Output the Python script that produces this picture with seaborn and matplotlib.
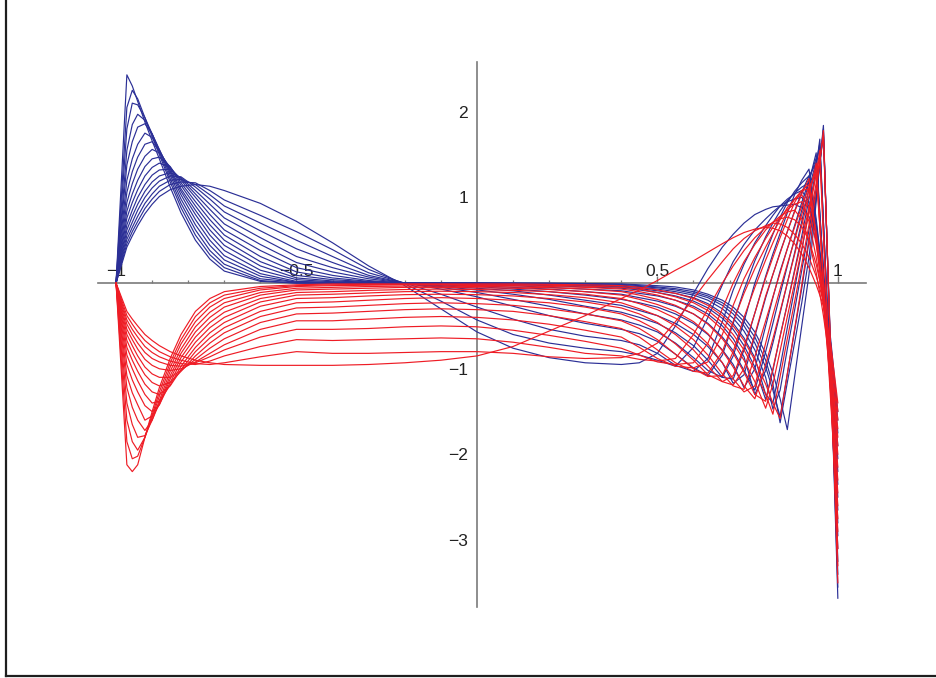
import matplotlib
matplotlib.use("Agg")
import matplotlib.pyplot as plt
import pandas as pd
import seaborn as sns

# shared x sample positions
x_grid = [-1.0, -0.97, -0.955, -0.94, -0.92, -0.9, -0.88, -0.85, -0.82, -0.78, -0.74, -0.7, -0.6, -0.5,
          -0.4, -0.3, -0.2, -0.1, 0.0, 0.1, 0.2, 0.3,
          0.4, 0.45, 0.5, 0.55, 0.6, 0.64, 0.68, 0.71, 0.74, 0.77, 0.8, 0.82, 0.84, 0.86, 0.88, 0.9,
          0.92, 0.94, 0.95, 0.96, 0.98, 1.0]

# blue family (sharpest first)
b00 = [0, 2.43, 2.3, 2.12, 1.88, 1.66, 1.45, 1.12, 0.82, 0.5, 0.28, 0.14, 0.02, 0.0,
       0.0, 0.0, 0.0, 0.0, 0.0, 0.0, 0.0, -0.005,
       -0.01, -0.02, -0.03, -0.045, -0.08, -0.13, -0.2, -0.28, -0.4, -0.57, -0.82, -1.05, -1.35, -1.71, -1.1, -0.5, 0.1, 0.95, 1.4, 1.84, -0.92, -3.68]
b01 = [0, 2.05, 2.25, 2.15, 1.93, 1.71, 1.5, 1.18, 0.88, 0.56, 0.33, 0.18, 0.03, 0.0,
       0.0, 0.0, 0.0, 0.0, 0.0, 0.0, -0.005, -0.01,
       -0.015, -0.03, -0.045, -0.065, -0.1, -0.15, -0.23, -0.32, -0.45, -0.63, -0.9, -1.18, -1.63, -1.16, -0.7, -0.23, 0.3, 1.0, 1.4, 1.8, -0.88, -3.55]
b02 = [0, 1.8, 2.1, 2.08, 1.93, 1.74, 1.53, 1.22, 0.93, 0.62, 0.38, 0.22, 0.05, 0.01,
       0.0, 0.0, 0.0, 0.0, 0.0, -0.005, -0.01, -0.015,
       -0.025, -0.04, -0.055, -0.08, -0.12, -0.17, -0.26, -0.36, -0.5, -0.7, -0.98, -1.25, -1.56, -1.06, -0.56, -0.06, 0.48, 1.05, 1.4, 1.76, -0.82, -3.4]
b03 = [0, 1.55, 1.85, 1.97, 1.9, 1.74, 1.55, 1.26, 0.98, 0.68, 0.44, 0.27, 0.08, 0.01,
       0.005, 0.0, 0.0, 0.0, 0.0, -0.005, -0.015, -0.025,
       -0.035, -0.05, -0.07, -0.1, -0.14, -0.2, -0.3, -0.41, -0.56, -0.78, -1.1, -1.47, -1.25, -0.77, -0.32, 0.15, 0.62, 1.1, 1.4, 1.72, -0.77, -3.25]
b04 = [0, 1.38, 1.65, 1.82, 1.86, 1.74, 1.56, 1.29, 1.03, 0.74, 0.5, 0.32, 0.11, 0.02,
       0.01, 0.0, 0.0, 0.0, -0.005, -0.01, -0.02, -0.03,
       -0.045, -0.065, -0.09, -0.12, -0.17, -0.24, -0.35, -0.47, -0.64, -0.87, -1.3, -1.4, -0.98, -0.52, -0.07, 0.38, 0.85, 1.35, 1.68, 0.72, -1.19, -3.1]
b05 = [0, 1.2, 1.45, 1.62, 1.75, 1.7, 1.55, 1.31, 1.07, 0.8, 0.56, 0.38, 0.15, 0.04,
       0.015, 0.005, 0.0, -0.005, -0.01, -0.02, -0.03, -0.045,
       -0.06, -0.08, -0.11, -0.15, -0.21, -0.29, -0.41, -0.54, -0.73, -0.98, -1.36, -1.02, -0.62, -0.24, 0.15, 0.55, 0.98, 1.4, 1.63, 0.71, -1.12, -2.95]
b06 = [0, 1.06, 1.3, 1.47, 1.62, 1.65, 1.54, 1.33, 1.1, 0.85, 0.62, 0.44, 0.2, 0.06,
       0.025, 0.01, 0.0, -0.01, -0.02, -0.03, -0.05, -0.07,
       -0.09, -0.12, -0.15, -0.2, -0.27, -0.36, -0.5, -0.65, -0.86, -1.3, -1.02, -0.7, -0.35, 0.0, 0.35, 0.72, 1.1, 1.42, 1.58, 0.7, -1.05, -2.8]
b07 = [0, 0.94, 1.16, 1.33, 1.48, 1.56, 1.52, 1.35, 1.14, 0.9, 0.68, 0.5, 0.25, 0.09,
       0.04, 0.015, 0.0, -0.015, -0.03, -0.05, -0.07, -0.1,
       -0.13, -0.17, -0.21, -0.27, -0.36, -0.47, -0.63, -0.79, -1.02, -1.25, -0.8, -0.47, -0.13, 0.2, 0.52, 0.85, 1.18, 1.52, 0.83, 0.13, -1.26, -2.65]
b08 = [0, 0.84, 1.04, 1.2, 1.36, 1.45, 1.47, 1.36, 1.17, 0.95, 0.74, 0.56, 0.31, 0.13,
       0.06, 0.02, 0.0, -0.02, -0.04, -0.07, -0.1, -0.14,
       -0.19, -0.23, -0.28, -0.36, -0.47, -0.6, -0.78, -0.95, -1.22, -1.0, -0.5, -0.17, 0.14, 0.4, 0.67, 0.94, 1.2, 1.46, 0.81, 0.15, -1.17, -2.5]
b09 = [0, 0.76, 0.94, 1.09, 1.25, 1.35, 1.4, 1.35, 1.2, 1.0, 0.8, 0.62, 0.38, 0.18,
       0.09, 0.03, 0.0, -0.03, -0.06, -0.09, -0.14, -0.2,
       -0.26, -0.32, -0.38, -0.47, -0.6, -0.74, -0.93, -1.17, -1.07, -0.62, -0.17, 0.1, 0.36, 0.6, 0.84, 1.06, 1.25, 1.4, 0.78, 0.15, -1.1, -2.35]
b10 = [0, 0.68, 0.85, 1.0, 1.15, 1.26, 1.32, 1.33, 1.22, 1.04, 0.86, 0.69, 0.45, 0.24,
       0.13, 0.05, 0.0, -0.04, -0.08, -0.13, -0.19, -0.27,
       -0.34, -0.4, -0.47, -0.58, -0.73, -0.9, -1.1, -1.12, -0.78, -0.35, 0.08, 0.34, 0.58, 0.82, 1.03, 1.2, 1.33, 0.75, 0.38, 0.0, -1.0, -2.2]
b11 = [0, 0.62, 0.78, 0.92, 1.07, 1.18, 1.25, 1.29, 1.23, 1.08, 0.92, 0.76, 0.53, 0.31,
       0.18, 0.07, 0.0, -0.05, -0.11, -0.19, -0.27, -0.36,
       -0.43, -0.49, -0.57, -0.7, -0.87, -1.02, -1.1, -0.85, -0.45, 0.0, 0.35, 0.57, 0.77, 0.94, 1.07, 1.17, 1.25, 0.7, 0.35, -0.02, -0.95, -2.05]
b12 = [0, 0.56, 0.71, 0.85, 1.0, 1.11, 1.19, 1.25, 1.24, 1.12, 0.98, 0.83, 0.61, 0.4,
       0.24, 0.09, 0.0, -0.07, -0.16, -0.27, -0.38, -0.47,
       -0.54, -0.59, -0.68, -0.83, -0.99, -1.08, -0.84, -0.47, -0.08, 0.26, 0.54, 0.7, 0.84, 0.96, 1.05, 1.12, 1.17, 0.65, 0.32, -0.03, -0.9, -1.9]
b13 = [0, 0.51, 0.65, 0.78, 0.93, 1.04, 1.13, 1.2, 1.21, 1.15, 1.03, 0.9, 0.7, 0.5,
       0.31, 0.12, 0.0, -0.13, -0.28, -0.42, -0.54, -0.62,
       -0.67, -0.72, -0.82, -0.96, -1.03, -0.88, -0.45, -0.08, 0.22, 0.47, 0.67, 0.79, 0.9, 0.98, 1.04, 1.08, 0.95, 0.6, 0.35, 0.05, -0.75, -1.75]
b14 = [0, 0.46, 0.6, 0.72, 0.87, 0.98, 1.07, 1.15, 1.18, 1.17, 1.08, 0.97, 0.79, 0.6,
       0.39, 0.16, -0.01, -0.21, -0.43, -0.6, -0.7, -0.76,
       -0.8, -0.84, -0.9, -0.97, -0.75, -0.4, -0.02, 0.25, 0.45, 0.62, 0.75, 0.83, 0.9, 0.95, 0.98, 1.0, 0.9, 0.55, 0.3, 0.02, -0.7, -1.6]
b15 = [0, 0.42, 0.55, 0.67, 0.81, 0.92, 1.01, 1.09, 1.13, 1.15, 1.13, 1.08, 0.93, 0.72,
       0.47, 0.2, -0.03, -0.3, -0.57, -0.76, -0.87, -0.93,
       -0.95, -0.93, -0.82, -0.5, -0.12, 0.17, 0.42, 0.57, 0.7, 0.8, 0.86, 0.89, 0.9, 0.91, 0.92, 0.88, 0.78, 0.5, 0.28, 0.0, -0.65, -1.5]

# red family (sharpest first)
r00 = [0, -2.12, -2.2, -2.12, -1.8, -1.5, -1.22, -0.88, -0.6, -0.33, -0.18, -0.1, -0.04, -0.02,
       -0.01, -0.01, -0.01, -0.01, -0.01, -0.01, -0.015, -0.02,
       -0.03, -0.05, -0.08, -0.12, -0.18, -0.26, -0.38, -0.5, -0.67, -0.9, -1.18, -1.4, -1.58, -1.06, -0.54, -0.02, 0.52, 1.08, 1.4, 1.78, -0.86, -3.5]
r01 = [0, -1.85, -2.05, -2.02, -1.8, -1.54, -1.27, -0.93, -0.66, -0.39, -0.23, -0.14, -0.06, -0.03,
       -0.02, -0.015, -0.015, -0.015, -0.02, -0.02, -0.025, -0.035,
       -0.05, -0.07, -0.11, -0.16, -0.23, -0.32, -0.46, -0.6, -0.78, -1.02, -1.3, -1.53, -1.09, -0.65, -0.22, 0.22, 0.68, 1.17, 1.45, 1.72, -0.79, -3.3]
r02 = [0, -1.6, -1.85, -1.95, -1.8, -1.57, -1.32, -0.98, -0.71, -0.45, -0.28, -0.18, -0.08, -0.04,
       -0.03, -0.025, -0.02, -0.02, -0.03, -0.03, -0.04, -0.05,
       -0.07, -0.1, -0.14, -0.2, -0.29, -0.39, -0.54, -0.7, -0.9, -1.15, -1.46, -1.18, -0.79, -0.39, 0.0, 0.4, 0.82, 1.27, 1.55, 0.6, -1.25, -3.1]
r03 = [0, -1.4, -1.65, -1.8, -1.78, -1.6, -1.37, -1.03, -0.77, -0.51, -0.34, -0.23, -0.11, -0.06,
       -0.05, -0.04, -0.035, -0.035, -0.04, -0.045, -0.055, -0.07,
       -0.1, -0.14, -0.19, -0.26, -0.36, -0.48, -0.65, -0.82, -1.04, -1.3, -1.38, -1.0, -0.62, -0.25, 0.13, 0.5, 0.88, 1.28, 1.48, 0.55, -1.2, -2.9]
r04 = [0, -1.22, -1.45, -1.6, -1.72, -1.6, -1.4, -1.08, -0.82, -0.57, -0.4, -0.28, -0.14, -0.08,
       -0.07, -0.06, -0.05, -0.05, -0.055, -0.06, -0.075, -0.1,
       -0.14, -0.19, -0.25, -0.33, -0.45, -0.59, -0.79, -0.98, -1.2, -1.35, -0.95, -0.65, -0.33, 0.0, 0.33, 0.67, 1.02, 1.4, 0.71, 0.02, -1.37, -2.75]
r05 = [0, -1.08, -1.28, -1.42, -1.6, -1.55, -1.42, -1.12, -0.87, -0.63, -0.46, -0.34, -0.18, -0.11,
       -0.1, -0.085, -0.075, -0.07, -0.075, -0.085, -0.1, -0.13,
       -0.18, -0.24, -0.31, -0.41, -0.55, -0.71, -0.93, -1.12, -1.27, -1.2, -0.7, -0.37, -0.07, 0.22, 0.5, 0.8, 1.08, 1.33, 0.67, 0.02, -1.29, -2.6]
r06 = [0, -0.95, -1.13, -1.27, -1.43, -1.5, -1.42, -1.16, -0.92, -0.69, -0.52, -0.4, -0.22, -0.14,
       -0.13, -0.115, -0.1, -0.095, -0.1, -0.11, -0.135, -0.17,
       -0.23, -0.3, -0.38, -0.5, -0.66, -0.84, -1.06, -1.2, -1.24, -0.86, -0.44, -0.16, 0.12, 0.4, 0.65, 0.9, 1.12, 1.28, 0.66, 0.04, -1.2, -2.45]
r07 = [0, -0.84, -1.0, -1.14, -1.3, -1.4, -1.38, -1.19, -0.97, -0.75, -0.58, -0.46, -0.27, -0.18,
       -0.17, -0.15, -0.135, -0.13, -0.135, -0.15, -0.18, -0.22,
       -0.29, -0.36, -0.46, -0.6, -0.78, -0.97, -1.15, -1.19, -1.0, -0.6, -0.15, 0.1, 0.35, 0.6, 0.83, 1.04, 1.22, 0.5, 0.12, -0.25, -1.2, -2.3]
r08 = [0, -0.75, -0.9, -1.03, -1.18, -1.27, -1.3, -1.2, -1.01, -0.8, -0.64, -0.52, -0.33, -0.23,
       -0.22, -0.2, -0.18, -0.17, -0.18, -0.2, -0.23, -0.28,
       -0.36, -0.44, -0.55, -0.71, -0.9, -1.07, -1.15, -1.08, -0.75, -0.35, 0.06, 0.3, 0.53, 0.74, 0.94, 1.08, 1.15, 0.55, 0.2, -0.15, -1.05, -2.15]
r09 = [0, -0.67, -0.81, -0.93, -1.07, -1.16, -1.2, -1.16, -1.03, -0.85, -0.7, -0.58, -0.39, -0.29,
       -0.28, -0.26, -0.24, -0.23, -0.24, -0.26, -0.3, -0.36,
       -0.44, -0.53, -0.66, -0.83, -1.0, -1.09, -1.08, -0.8, -0.4, -0.05, 0.27, 0.47, 0.66, 0.84, 0.98, 1.08, 1.1, 0.6, 0.27, -0.08, -0.95, -2.0]
r10 = [0, -0.6, -0.73, -0.85, -0.98, -1.06, -1.1, -1.1, -1.02, -0.89, -0.76, -0.65, -0.46, -0.36,
       -0.35, -0.33, -0.31, -0.3, -0.31, -0.33, -0.38, -0.45,
       -0.53, -0.63, -0.78, -0.93, -1.03, -1.05, -0.8, -0.45, -0.12, 0.17, 0.42, 0.58, 0.74, 0.88, 0.98, 1.03, 0.88, 0.45, 0.15, -0.17, -0.95, -1.9]
r11 = [0, -0.54, -0.66, -0.77, -0.89, -0.96, -1.0, -1.02, -1.0, -0.92, -0.82, -0.72, -0.54, -0.44,
       -0.44, -0.42, -0.4, -0.39, -0.4, -0.43, -0.48, -0.55,
       -0.63, -0.75, -0.88, -0.97, -0.99, -0.92, -0.6, -0.26, 0.05, 0.3, 0.52, 0.65, 0.77, 0.86, 0.92, 0.95, 0.72, 0.3, 0.04, -0.25, -0.95, -1.8]
r12 = [0, -0.48, -0.6, -0.7, -0.81, -0.88, -0.92, -0.96, -0.97, -0.93, -0.86, -0.78, -0.63, -0.54,
       -0.54, -0.53, -0.51, -0.5, -0.51, -0.55, -0.61, -0.68,
       -0.76, -0.84, -0.92, -0.95, -0.93, -0.7, -0.3, 0.0, 0.25, 0.45, 0.62, 0.71, 0.78, 0.83, 0.85, 0.75, 0.5, 0.12, -0.12, -0.38, -0.98, -1.7]
r13 = [0, -0.43, -0.54, -0.63, -0.74, -0.81, -0.86, -0.91, -0.94, -0.95, -0.91, -0.85, -0.74, -0.66,
       -0.67, -0.66, -0.65, -0.64, -0.65, -0.69, -0.75, -0.82,
       -0.85, -0.89, -0.91, -0.88, -0.6, -0.3, 0.0, 0.2, 0.38, 0.53, 0.65, 0.71, 0.75, 0.77, 0.74, 0.66, 0.5, 0.22, 0.02, -0.2, -0.85, -1.6]
r14 = [0, -0.38, -0.48, -0.57, -0.67, -0.74, -0.8, -0.86, -0.9, -0.94, -0.95, -0.93, -0.86, -0.8,
       -0.82, -0.82, -0.81, -0.8, -0.8, -0.82, -0.86, -0.88,
       -0.87, -0.82, -0.7, -0.45, -0.18, 0.04, 0.25, 0.4, 0.52, 0.61, 0.67, 0.7, 0.69, 0.65, 0.57, 0.46, 0.3, 0.08, -0.06, -0.22, -0.75, -1.5]
r15 = [0, -0.33, -0.42, -0.5, -0.6, -0.67, -0.73, -0.8, -0.85, -0.9, -0.93, -0.95, -0.96, -0.96,
       -0.96, -0.95, -0.93, -0.9, -0.85, -0.74, -0.56, -0.38,
       -0.18, -0.08, 0.03, 0.15, 0.26, 0.36, 0.46, 0.53, 0.59, 0.63, 0.65, 0.64, 0.61, 0.55, 0.46, 0.34, 0.18, -0.02, -0.14, -0.27, -0.7, -1.4]

blue_curves = [b00, b01, b02, b03, b04, b05, b06, b07, b08, b09, b10, b11, b12, b13, b14, b15]
red_curves = [r00, r01, r02, r03, r04, r05, r06, r07, r08, r09, r10, r11, r12, r13, r14, r15]

x_major = [-1, -0.5, 0.5, 1]
x_major_labels = ["\u22121", "\u22120.5", "0.5", "1"]
y_major = [-3, -2, -1, 1, 2]
y_major_labels = ["\u22123", "\u22122", "\u22121", "1", "2"]

rows = []
for fam, curves in (("blue", blue_curves), ("red", red_curves)):
    for i, c in enumerate(curves):
        assert len(c) == len(x_grid), (fam, i, len(c))
        for xv, yv in zip(x_grid, c):
            rows.append((fam, f"{fam}{i:02d}", xv, yv))
df = pd.DataFrame(rows, columns=["family", "curve", "x", "y"])

sns.set_style("white")
plt.rcParams["font.family"] = ["Liberation Sans", "DejaVu Sans"]

W, H = 937, 678
fig = plt.figure(figsize=(W / 100, H / 100), dpi=100)
fig.patch.set_facecolor("white")

# outer frame (left and bottom edges)
frame = fig.add_axes([6 / W, 2 / H, 1 - 6 / W, 1 - 2 / H])
frame.set_xticks([])
frame.set_yticks([])
frame.patch.set_alpha(0)
for s in ("top", "right"):
    frame.spines[s].set_visible(False)
for s in ("left", "bottom"):
    frame.spines[s].set_color("#1e1e1e")
    frame.spines[s].set_linewidth(1.6)

ax = fig.add_axes([98 / W, 71 / H, 768 / W, 545 / H])
ax.patch.set_alpha(0)
sns.lineplot(data=df, x="x", y="y", hue="family", units="curve", estimator=None,
             sort=False, palette={"blue": "#2b2f96", "red": "#ee1c25"},
             linewidth=0.85, legend=False, ax=ax)

ax.set_xlim(-1.05, 1.078)
ax.set_ylim(-3.78, 2.58)
ax.set_xlabel("")
ax.set_ylabel("")

axis_col = "#7a7a7a"
ax.spines["bottom"].set_visible(False)
ax.spines["right"].set_visible(False)
ax.spines["top"].set_position(("data", 0))
ax.spines["left"].set_position(("data", 0))
for s in ("top", "left"):
    ax.spines[s].set_color(axis_col)
    ax.spines[s].set_linewidth(1.2)
    ax.spines[s].set_zorder(0.5)

ax.xaxis.set_ticks_position("top")
ax.set_xticks(x_major)
ax.set_xticklabels(x_major_labels)
ax.set_xticks([v / 10 for v in range(-9, 10) if v not in (-5, 0, 5)], minor=True)
ax.set_yticks(y_major)
ax.set_yticklabels(y_major_labels)
ax.set_yticks([v / 5 for v in range(-18, 13) if v % 5 != 0], minor=True)

ax.tick_params(axis="x", which="major", direction="out", length=5, width=1,
               color=axis_col, labelcolor="#222222", labelsize=12.6, pad=-2)
ax.tick_params(axis="x", which="minor", direction="out", length=2.4, width=0.9, color=axis_col)
ax.tick_params(axis="y", which="major", direction="out", length=5.8, width=1,
               color=axis_col, labelcolor="#222222", labelsize=12.6, pad=0.5)
ax.tick_params(axis="y", which="minor", direction="in", length=2.4, width=0.9, color=axis_col)
ax.grid(False)

fig.savefig("out.png", dpi=100, facecolor="white")
